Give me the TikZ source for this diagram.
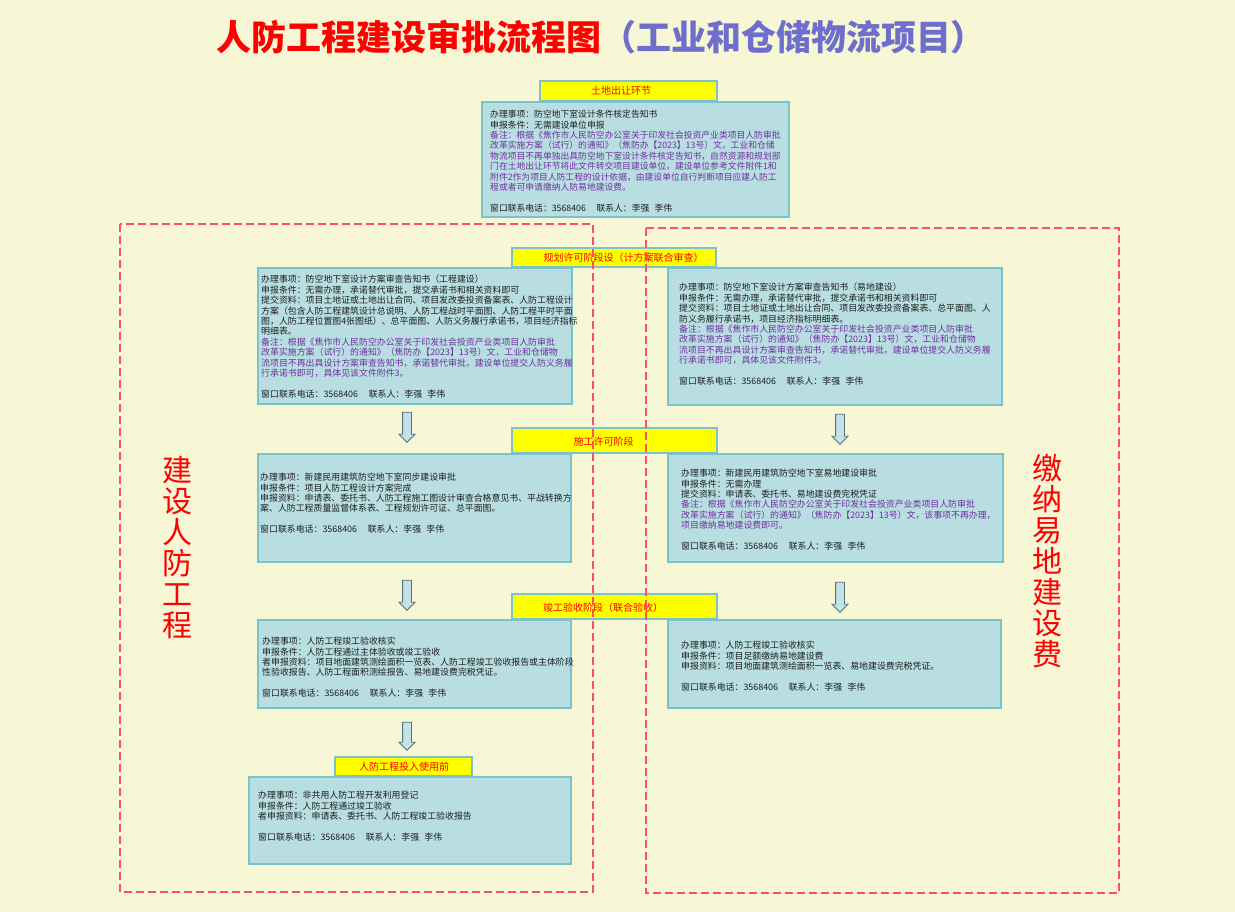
\documentclass[tikz,border=0pt]{standalone}
\usepackage{fontspec}
\setmainfont{Noto Sans CJK SC}[RawFeature=+chws]
\usetikzlibrary{shapes.arrows}
\definecolor{bg}{HTML}{F7F6D5}
\definecolor{boxfill}{HTML}{B8DEE2}
\definecolor{boxline}{HTML}{7CC2CB}
\definecolor{hdrfill}{HTML}{FFFF00}
\definecolor{note}{HTML}{7030A0}
\definecolor{bodytext}{HTML}{1E1E1E}
\definecolor{titleblue}{HTML}{6E6ECD}
\definecolor{dashred}{HTML}{FF4D6D}
\definecolor{arrowfill}{HTML}{C4E2E8}
\definecolor{arrowline}{HTML}{56707C}
\newcommand\nt[1]{\textcolor{note}{#1}}
\newcommand\contact{窗口联系电话：3568406\hspace{1.2em}联系人：李强\hspace{0.6em}李伟}
\begin{document}
\begin{tikzpicture}[x=1pt,y=-1pt,
  box/.style={draw=boxline, fill=boxfill, line width=1.8pt, inner sep=0pt, anchor=north west},
  hdr/.style={draw=boxline, fill=hdrfill, line width=1.8pt, inner sep=0pt},
  hdrtext/.style={inner sep=0pt, text=red, font=\fontsize{10}{12}\selectfont},
  body/.style={anchor=north west, inner sep=0pt, align=left, text=bodytext, font=\fontsize{8.9}{10.4}\selectfont},
  downarrow/.style={single arrow, draw=arrowline, fill=arrowfill, line width=0.8pt, minimum width=15pt, minimum height=30pt, single arrow head extend=3.5pt, single arrow head indent=0pt, inner xsep=0pt, inner ysep=4pt, rotate=-90},
  dashbox/.style={draw=dashred, line width=2pt, dash pattern=on 8pt off 4pt},
  sidelabel/.style={text=red, align=center, inner sep=0pt, font=\fontsize{30}{31}\selectfont}
]
\useasboundingbox (0,0) rectangle (1235,912);
\fill[bg] (0,0) rectangle (1235,912);

% title
\node[inner sep=0pt, font=\fontsize{35}{40}\selectfont\bfseries] (title) at (601,37)
  {\textcolor{red}{人防工程建设审批流程图}\textcolor{titleblue}{（工业和仓储物流项目）}};

% boxes
\node[box, minimum width=307pt, minimum height=115pt] (b1) at (481,101) {};
\node[box, minimum width=314pt, minimum height=136pt] (l2) at (257,267) {};
\node[box, minimum width=334pt, minimum height=137pt] (r2) at (667,267) {};
\node[box, minimum width=313pt, minimum height=108pt] (l3) at (257,453) {};
\node[box, minimum width=335pt, minimum height=108pt] (r3) at (667,453) {};
\node[box, minimum width=313pt, minimum height=88pt] (l4) at (257,619) {};
\node[box, minimum width=333pt, minimum height=88pt] (r4) at (667,619) {};
\node[box, minimum width=322pt, minimum height=87pt] (b5) at (248,776) {};

% headers
\node[hdr, minimum width=177pt, minimum height=20pt] (h1) at (628.5,91) {};
\node[hdr, minimum width=204pt, minimum height=19pt] (h2) at (614,257.5) {};
\node[hdr, minimum width=205pt, minimum height=25pt] (h3) at (614.5,440.5) {};
\node[hdr, minimum width=205pt, minimum height=25pt] (h4) at (614.5,606.5) {};
\node[hdr, minimum width=137pt, minimum height=19pt] (h5) at (403.5,766.5) {};
\node[hdrtext] (h1t) at (621,91) {土地出让环节};
\node[hdrtext] (h2t) at (623.5,257.5) {规划许可阶段设（计方案联合审查）};
\node[hdrtext] (h3t) at (603.5,442) {施工许可阶段};
\node[hdrtext] (h4t) at (603,607.5) {竣工验收阶段（联合验收）};
\node[hdrtext] (h5t) at (404,766.5) {人防工程投入使用前};

% texts
\node[body, font=\fontsize{8.8}{10.4}\selectfont] (t1) at (490,110) {%
办理事项：防空地下室设计条件核定告知书\\
申报条件：无需建设单位申报\\
\nt{备注：根据《焦作市人民防空办公室关于印发社会投资产业类项目人防审批}\\
\nt{改革实施方案（试行）的通知》（焦防办【2023】13号）文，工业和仓储}\\
\nt{物流项目不再单独出具防空地下室设计条件核定告知书，自然资源和规划部}\\
\nt{门在土地出让环节将此文件转交项目建设单位，建设单位参考文件附件1和}\\
\nt{附件2作为项目人防工程的设计依据，由建设单位自行判断项目应建人防工}\\
\nt{程或者可申请缴纳人防易地建设费。}\\[10.4pt]
\contact};

\node[body] (t2) at (261,275) {%
办理事项：防空地下室设计方案审查告知书（工程建设）\\
申报条件：无需办理，承诺替代审批，提交承诺书和相关资料即可\\
提交资料：项目土地证或土地出让合同、项目发改委投资备案表、人防工程设计\\
方案（包含人防工程建筑设计总说明、人防工程战时平面图、人防工程平时平面\\
图，人防工程位置图4张图纸）、总平面图、人防义务履行承诺书，项目经济指标\\
明细表。\\
\nt{备注：根据《焦作市人民防空办公室关于印发社会投资产业类项目人防审批}\\
\nt{改革实施方案（试行）的通知》（焦防办【2023】13号）文，工业和仓储物}\\
\nt{流项目不再出具设计方案审查告知书，承诺替代审批，建设单位提交人防义务履}\\
\nt{行承诺书即可，具体见该文件附件3。}\\[10.4pt]
\contact};

\node[body] (t3) at (679,283) {%
办理事项：防空地下室设计方案审查告知书（易地建设）\\
申报条件：无需办理，承诺替代审批，提交承诺书和相关资料即可\\
提交资料：项目土地证或土地出让合同、项目发改委投资备案表、总平面图、人\\
防义务履行承诺书，项目经济指标明细表。\\
\nt{备注：根据《焦作市人民防空办公室关于印发社会投资产业类项目人防审批}\\
\nt{改革实施方案（试行）的通知》（焦防办【2023】13号）文，工业和仓储物}\\
\nt{流项目不再出具设计方案审查告知书，承诺替代审批，建设单位提交人防义务履}\\
\nt{行承诺书即可，具体见该文件附件3。}\\[10.4pt]
\contact};

\node[body] (t4) at (260,473) {%
办理事项：新建民用建筑防空地下室同步建设审批\\
申报条件：项目人防工程设计方案完成\\
申报资料：申请表、委托书、人防工程施工图设计审查合格意见书、平战转换方\\
案、人防工程质量监督体系表、工程规划许可证、总平面图。\\[10.4pt]
\contact};

\node[body] (t5) at (681,469) {%
办理事项：新建民用建筑防空地下室易地建设审批\\
申报条件：无需办理\\
提交资料：申请表、委托书、易地建设费完税凭证\\
\nt{备注：根据《焦作市人民防空办公室关于印发社会投资产业类项目人防审批}\\
\nt{改革实施方案（试行）的通知》（焦防办【2023】13号）文，该事项不再办理，}\\
\nt{项目缴纳易地建设费即可。}\\[10.4pt]
\contact};

\node[body] (t6) at (262,637) {%
办理事项：人防工程竣工验收核实\\
申报条件：人防工程通过主体验收或竣工验收\\
者申报资料：项目地面建筑测绘面积一览表、人防工程竣工验收报告或主体阶段\\
性验收报告、人防工程面积测绘报告、易地建设费完税凭证。\\[10.4pt]
\contact};

\node[body] (t7) at (681,641) {%
办理事项：人防工程竣工验收核实\\
申报条件：项目足额缴纳易地建设费\\
申报资料：项目地面建筑测绘面积一览表、易地建设费完税凭证。\\[10.4pt]
\contact};

\node[body] (t8) at (258,791) {%
办理事项：非共用人防工程开发利用登记\\
申报条件：人防工程通过竣工验收\\
者申报资料：申请表、委托书、人防工程竣工验收报告\\[10.4pt]
\contact};

% arrows
\node[downarrow] (a1) at (407,425) {};
\node[downarrow] (a2) at (840,427) {};
\node[downarrow] (a3) at (407,593) {};
\node[downarrow] (a4) at (840,595) {};
\node[downarrow, minimum height=28pt] (a5) at (407,734) {};

% dashed frames
\draw[dashbox] (120,224) rectangle (593,892);
\draw[dashbox] (646,228) rectangle (1119,893);

% side labels
\node[sidelabel] (sl) at (177,548) {建\\设\\人\\防\\工\\程};
\node[sidelabel] (sr) at (1047,561) {缴\\纳\\易\\地\\建\\设\\费};
\end{tikzpicture}
\end{document}
